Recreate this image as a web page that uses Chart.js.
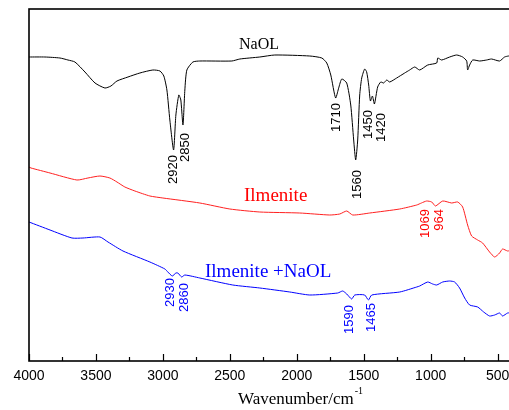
<!DOCTYPE html>
<html>
<head>
<meta charset="utf-8">
<script src="https://cdn.jsdelivr.net/npm/chart.js@4/dist/chart.umd.min.js"></script>
<style>
  html, body { margin: 0; padding: 0; background: #fff; overflow: hidden; }
  #ftir { display: block; }
</style>
</head>
<body>
<canvas id="ftir" width="520" height="410"></canvas>
<script>
// FTIR spectra, transmittance in arbitrary units (offset per sample)
const naolWn = [4000,3881,3769,3709,3657,3582,3507,3433,3388,3343,3261,3172,3075,3022,2993,2970,2948,2920,2903,2881,2866,2850,2836,2821,2776,2724,2485,2425,2276,2164,1903,1813,1776,1746,1710,1687,1664,1627,1597,1575,1560,1545,1530,1515,1493,1478,1463,1450,1435,1420,1396,1373,1351,1328,1306,1254,1194,1157,1119,1082,1022,955,947,918,858,806,761,731,724,709,686,634,582,545,485,448,418,396];
const naolT  = [304,304,303,301,299,289,278,273,275,280,284,288,291,290,285,271,241,211,246,266,261,236,271,291,299,300,300,302,304,306,305,303,298,286,263,273,282,278,256,221,201,221,266,283,292,289,276,260,265,257,274,279,278,281,279,283,288,291,294,291,296,298,303,301,304,306,304,300,291,296,301,300,301,302,300,304,305,305];

const ilmWn = [4000,3985,3843,3642,3560,3470,3396,3343,3284,3209,3097,3000,2724,2500,2276,1978,1754,1679,1627,1582,1455,1231,1104,1069,1030,992,964,910,843,798,761,724,694,649,612,560,522,485,463,425,396];
const ilmT  = [194,193,188,181,183,185,183,179,174,170,165,163,158,152,149,148,146,147,150,146,148,152,156,158,160,159,155,160,158,159,154,136,125,121,118,109,104,108,112,110,111];

const mixWn = [4000,3843,3679,3597,3470,3410,3298,3097,2985,2963,2930,2903,2888,2860,2836,2724,2478,2276,2052,1903,1694,1657,1627,1590,1567,1493,1465,1440,1231,1104,1082,1022,985,955,910,858,821,784,746,709,649,604,560,522,485,463,425,396];
const mixT  = [139,131,123,123,124,119,110,99,92,89,85,88,88,84,86,83,76,73,69,66,68,70,67,62,66,66,61,66,69,74,75,79,77,76,79,80,79,73,63,56,54,49,45,46,48,45,48,48];

const tickValues = [4000,3500,3000,2500,2000,1500,1000,500];
const minorTicks = [3750,3250,2750,2250,1750,1250,750];

// assigned band positions
const naolPeaks = [2920,2850,1710,1560,1450,1420];
const ilmPeaks  = [1069,964];
const mixPeaks  = [2930,2860,1590,1465];

const seriesNames = ['NaOL','Ilmenite','Ilmenite +NaOL'];

// label placement: x nudge from band position, top of rotated text (px)
const naolLabelPos = [[0,155],[2,133],[1,103],[2,170],[-2,110],[7,113]];
const ilmLabelPos  = [[4,209],[4,209]];
const mixLabelPos  = [[-2,278],[3,283],[-2,305],[3,303]];

const toPts = (xs, ys) => xs.map((x, i) => ({ x: x, y: ys[i] }));

const SANS = '"Liberation Sans", Arial, sans-serif';
const SERIF = '"Liberation Serif", "Times New Roman", serif';

const decor = {
  id: 'decor',
  afterDraw(chart) {
    const { ctx, chartArea: a, scales: { x } } = chart;
    ctx.save();
    // frame
    ctx.strokeStyle = '#000';
    ctx.lineWidth = 1.6;
    ctx.strokeRect(a.left, a.top, a.right - a.left, a.bottom - a.top);
    // inward tick marks
    ctx.lineWidth = 1.2;
    ctx.beginPath();
    tickValues.forEach(v => {
      const px = Math.round(x.getPixelForValue(v)) + 0.5;
      ctx.moveTo(px, a.bottom); ctx.lineTo(px, a.bottom - 7);
    });
    minorTicks.forEach(v => {
      const px = Math.round(x.getPixelForValue(v)) + 0.5;
      ctx.moveTo(px, a.bottom); ctx.lineTo(px, a.bottom - 4);
    });
    ctx.stroke();

    // band labels, rotated
    const drawPeaks = (peaks, pos, color) => {
      ctx.fillStyle = color;
      ctx.font = '13px ' + SANS;
      ctx.textAlign = 'right';
      ctx.textBaseline = 'middle';
      peaks.forEach((p, i) => {
        const px = x.getPixelForValue(p) + pos[i][0];
        ctx.save();
        ctx.translate(px, pos[i][1]);
        ctx.rotate(-Math.PI / 2);
        ctx.fillText(String(p), 0, 0);
        ctx.restore();
      });
    };
    drawPeaks(naolPeaks, naolLabelPos, '#000');
    drawPeaks(ilmPeaks, ilmLabelPos, '#ff0000');
    drawPeaks(mixPeaks, mixLabelPos, '#0000ff');

    // sample names
    ctx.textBaseline = 'alphabetic';
    ctx.textAlign = 'center';
    ctx.fillStyle = '#000';
    ctx.font = '16px ' + SERIF;
    ctx.fillText(seriesNames[0], 259, 49);
    ctx.textAlign = 'left';
    ctx.fillStyle = '#ff0000';
    ctx.font = '19px ' + SERIF;
    ctx.fillText(seriesNames[1], 244, 201);
    ctx.fillStyle = '#0000ff';
    ctx.fillText(seriesNames[2], 205, 277);

    // axis title with superscript
    ctx.fillStyle = '#000';
    ctx.font = '17px ' + SERIF;
    const t = 'Wavenumber/cm';
    ctx.fillText(t, 238, 404);
    const w = ctx.measureText(t).width;
    ctx.font = '10px ' + SERIF;
    ctx.fillText('-1', 238 + w + 1, 394);
    ctx.restore();
  }
};

new Chart(document.getElementById('ftir'), {
  type: 'line',
  data: {
    datasets: [
      { label: seriesNames[0], data: toPts(naolWn, naolT), borderColor: '#000000' },
      { label: seriesNames[1], data: toPts(ilmWn, ilmT), borderColor: '#ff2020' },
      { label: seriesNames[2], data: toPts(mixWn, mixT), borderColor: '#0000ff' }
    ]
  },
  options: {
    responsive: false,
    animation: false,
    events: [],
    layout: { padding: { left: 29, top: 9, right: 9, bottom: 0 } },
    elements: {
      point: { radius: 0 },
      line: { borderWidth: 1, tension: 0.2, fill: false }
    },
    plugins: { legend: { display: false }, tooltip: { enabled: false } },
    scales: {
      x: {
        type: 'linear',
        reverse: true,
        min: 400,
        max: 4000,
        grid: { display: false, drawTicks: false },
        border: { display: false },
        afterBuildTicks: s => { s.ticks = tickValues.map(v => ({ value: v })); },
        afterFit: s => { s.height = 49; },
        ticks: {
          padding: 7,
          maxRotation: 0,
          autoSkip: false,
          color: '#000',
          font: { family: SANS, size: 14 },
          callback: v => String(v)
        }
      },
      y: {
        display: false,
        min: 0,
        max: 352
      }
    }
  },
  plugins: [decor]
});
</script>
</body>
</html>
